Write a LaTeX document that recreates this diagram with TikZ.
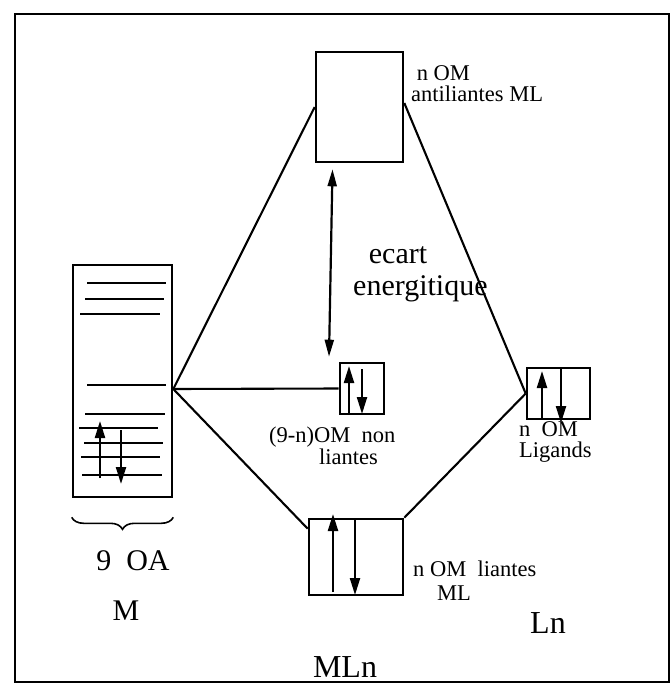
\documentclass[tikz,border=0pt]{standalone}
\usepackage{fontspec}
\setmainfont{Liberation Serif}
\usetikzlibrary{arrows.meta,decorations.pathreplacing,calc}
\begin{document}
\begin{tikzpicture}[x=1pt,y=-1pt,
  box/.style={draw,line width=2.6pt,inner sep=0pt,rectangle},
  conn/.style={line width=2.1pt},
  lvl/.style={line width=2.5pt},
  spin/.style={line width=2.2pt,-{Triangle[length=17pt,width=10pt]}},
  dbl/.style={line width=2.2pt,{Triangle[length=17pt,width=9pt]}-{Triangle[length=17pt,width=9pt]}},
  small/.style={font=\fontsize{22.5}{21}\selectfont,inner sep=0pt},
  big/.style={font=\fontsize{30}{32}\selectfont,inner sep=0pt},
  bigger/.style={font=\fontsize{32}{34}\selectfont,inner sep=0pt},
]
\useasboundingbox (0,0) rectangle (671,688);
\draw[line width=2.2pt] (15,14) rectangle (669,682);

% boxes
\node[box,minimum width=99pt,minimum height=232pt] (M) at (122.5,381) {};
\node[box,minimum width=87pt,minimum height=110pt] (AB) at (359.5,107) {};
\node[box,minimum width=44pt,minimum height=51pt] (NB) at (362,388.5) {};
\node[box,minimum width=63pt,minimum height=51pt] (LG) at (558.5,393.5) {};
\node[box,minimum width=94pt,minimum height=76pt] (BD) at (356,557) {};

% connectors
\coordinate (Mc) at ([yshift=-8pt]M.east);
\draw[conn] (Mc) -- (AB.west);
\draw[conn] (Mc) -- (NB.west);
\draw[conn] (Mc) -- ([yshift=-11pt]BD.north west);
\draw[conn] ([yshift=4pt]AB.east) -- (LG.west);
\draw[conn] (LG.west) -- (BD.north east);
\draw[dbl] ([xshift=-27pt,yshift=-6pt]AB.south) -- ([xshift=-33pt,yshift=5pt]NB.north);

% levels in M
\draw[lvl] (87,283) -- (166,283);
\draw[lvl] (85,299) -- (164,299);
\draw[lvl] (80,314) -- (160,314);
\draw[lvl] (87,385) -- (166,385);
\draw[lvl] (85,414) -- (165,414);
\draw[lvl] (79,428) -- (158,428);
\draw[lvl] (84,443) -- (163,443);
\draw[lvl] (81,457) -- (160,457);
\draw[lvl] (82,475) -- (162,475);

% spins
\draw[spin] (100,478) -- (100,421);
\draw[spin] (121,430) -- (121,484);
\draw[spin] (349,414) -- (349,366);
\draw[spin] (362,369) -- (362,414);
\draw[spin] (542,419) -- (542,371);
\draw[spin] (561,368) -- (561,423);
\draw[spin] (333,592) -- (333,514);
\draw[spin] (355,519) -- (355,595);

% brace
\draw[line width=1.6pt,decorate,decoration={brace,amplitude=12pt}] ([yshift=-19pt]M.south east) -- ([yshift=-19pt]M.south west);

% labels
\node[small,anchor=base west,align=left] (labAB) at (411,101) {\ n OM\\antiliantes ML};
\node[small,anchor=base west] (labNB1) at (269,442) {(9-n)OM\ \ non};
\node[small,anchor=base west] (labNB2) at (319,464) {liantes};
\node[small,anchor=base west,align=left] (labLG) at (519,457) {n\ \ OM\\Ligands};
\node[small,anchor=base west] (labBD1) at (413,576) {n OM\ \ liantes};
\node[small,anchor=base west] (labBD2) at (437,600) {ML};
\node[big,anchor=base] (ec1) at (398,263) {ecart};
\node[big,anchor=base west] (ec2) at (353,295) {energitique};
\node[big,anchor=base] (oa) at (133,570) {9\ \ OA};
\node[big,anchor=base] (labM) at (126,620) {M};
\node[bigger,anchor=base] (labL) at (548,633) {Ln};
\node[bigger,anchor=base] (labMLn) at (345,677) {MLn};
\end{tikzpicture}
\end{document}
